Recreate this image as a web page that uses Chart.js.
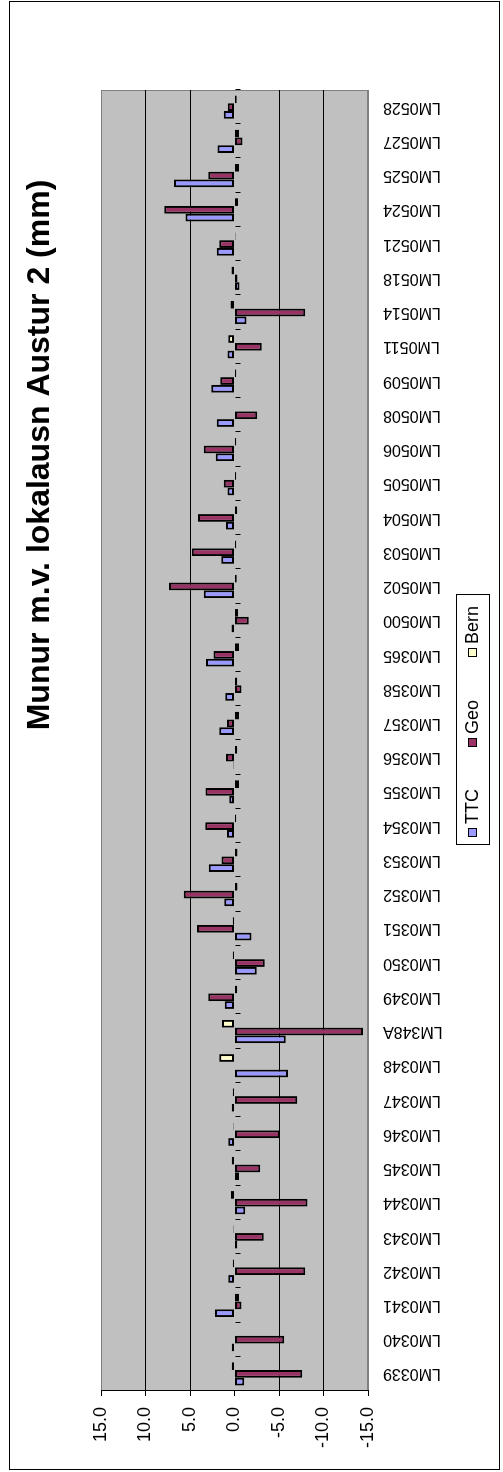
<!DOCTYPE html>
<html>
<head>
<meta charset="utf-8">
<script src="https://cdn.jsdelivr.net/npm/chart.js@4.4.1/dist/chart.umd.min.js"></script>
<style>
  body { margin: 0; background: #fff; }
  #wrap {
    position: absolute; left: 0; top: 0;
    width: 1472px; height: 503px;
    transform-origin: 0 0;
    transform: translate(0, 1472px) rotate(-90deg);
  }
</style>
</head>
<body>
<div id="wrap"><canvas id="chart" width="1472" height="503"></canvas></div>
<script>
/* chart data */
const chartTitle = 'Munur m.v. lokalausn Austur 2 (mm)';
const stations = ['LM0339', 'LM0340', 'LM0341', 'LM0342', 'LM0343', 'LM0344', 'LM0345', 'LM0346',
  'LM0347', 'LM0348', 'LM348A', 'LM0349', 'LM0350', 'LM0351', 'LM0352', 'LM0353', 'LM0354',
  'LM0355', 'LM0356', 'LM0357', 'LM0358', 'LM0365', 'LM0500', 'LM0502', 'LM0503', 'LM0504',
  'LM0505', 'LM0506', 'LM0508', 'LM0509', 'LM0511', 'LM0514', 'LM0518', 'LM0521', 'LM0524',
  'LM0525', 'LM0527', 'LM0528'];
const ttc = [-1.1, 0.3, 2.2, 0.7, -0.3, -1.2, -0.5, 0.7, 0.3, -6.0, -5.75, 1.1, -2.5, -1.9, 1.15,
  2.9, 0.85, 0.6, 0.1, 1.7, 1.05, 3.2, 0.35, 3.45, 1.5, 0.95, 0.8, 2.1, 2.0, 2.6, 0.8, -1.35,
  -0.55, 2.0, 5.5, 6.8, 1.9, 1.2];
const geo = [-7.6, -5.6, -0.8, -7.95, -3.3, -8.2, -2.9, -5.1, -7.05, 0, -14.45, 2.95, -3.4, 4.2,
  5.7, 1.45, 3.3, 3.25, 0.95, 0.85, -0.8, 2.35, -1.6, 7.35, 4.8, 4.1, 1.2, 3.45, -2.55, 1.6,
  -3.05, -7.95, -0.35, 1.7, 7.9, 2.95, -0.9, 0.75];
const bern = [0.3, 0, -0.5, 0.2, 0.1, 0.4, 0.3, 0.1, 0.2, 1.7, 1.4, -0.3, 0.2, 0.2, -0.35, -0.35,
  -0.2, -0.5, -0.3, -0.5, -0.3, -0.5, -0.4, -0.25, -0.2, -0.3, -0.2, -0.2, 0, -0.2, 0.7, 0.45,
  0.35, -0.1, -0.4, -0.5, -0.5, -0.25];
const valueTicks = [-15, -10, -5, 0, 5, 10, 15];

const FONT = '"Liberation Sans", Arial, sans-serif';

/* plot background, frame, zero axis ticks, title and legend */
const excelLook = {
  id: 'excelLook',
  beforeDraw(chart) {
    const { ctx, chartArea: a } = chart;
    ctx.save();
    ctx.fillStyle = '#C0C0C0';
    ctx.fillRect(a.left, a.top, a.right - a.left, a.bottom - a.top);
    ctx.strokeStyle = '#808080';
    ctx.lineWidth = 1;
    ctx.strokeRect(a.left + 0.5, a.top + 0.5, a.right - a.left - 1, a.bottom - a.top - 1);
    ctx.restore();
  },
  afterDatasetsDraw(chart) {
    const { ctx, chartArea: a, scales } = chart;
    const y0 = Math.round(scales.y.getPixelForValue(0)) + 0.5;
    const step = (a.right - a.left) / stations.length;
    ctx.save();
    ctx.strokeStyle = '#000';
    ctx.lineWidth = 1;
    ctx.beginPath();
    for (let i = 0; i <= stations.length; i++) {
      const x = Math.round(a.left + i * step) + 0.5;
      ctx.moveTo(x, y0);
      ctx.lineTo(x, y0 + 5);
    }
    ctx.stroke();
    ctx.restore();
  },
  afterDraw(chart) {
    const ctx = chart.ctx;
    ctx.save();
    // outer frame
    ctx.strokeStyle = '#000';
    ctx.lineWidth = 1;
    ctx.strokeRect(2.5, 9.5, 1468, 490);
    // title
    ctx.fillStyle = '#000';
    ctx.font = 'bold 32px ' + FONT;
    ctx.textAlign = 'center';
    ctx.textBaseline = 'middle';
    ctx.fillText(chartTitle, 1017, 40);
    // legend
    ctx.strokeRect(627.5, 456.5, 250, 33);
    ctx.font = '18px ' + FONT;
    ctx.textAlign = 'left';
    chart.data.datasets.forEach((ds, i) => {
      const mx = 635 + i * 90;
      ctx.fillStyle = ds.backgroundColor;
      ctx.fillRect(mx, 468, 8, 8);
      ctx.strokeRect(mx + 0.5, 468.5, 8, 8);
      ctx.fillStyle = '#000';
      ctx.fillText(ds.label, mx + 13, 473);
    });
    ctx.restore();
  }
};

const barStyle = { borderColor: '#000', borderWidth: 2, borderSkipped: false };

new Chart(document.getElementById('chart'), {
  type: 'bar',
  data: {
    labels: stations,
    datasets: [
      { label: 'TTC', data: ttc, backgroundColor: '#9999FF', ...barStyle },
      { label: 'Geo', data: geo, backgroundColor: '#993366', ...barStyle },
      { label: 'Bern', data: bern, backgroundColor: '#FFFFCC', ...barStyle }
    ]
  },
  options: {
    responsive: false,
    devicePixelRatio: 1,
    animation: false,
    layout: { padding: { left: 0, right: 90, top: 101, bottom: 47 } },
    categoryPercentage: 0.68,
    barPercentage: 1,
    plugins: {
      legend: { display: false },
      title: { display: false },
      tooltip: { enabled: false }
    },
    scales: {
      x: {
        grid: { display: false, drawTicks: false },
        border: { display: false },
        ticks: {
          autoSkip: false, minRotation: 90, maxRotation: 90, padding: 15,
          color: '#000', font: { family: FONT, size: 16 }
        },
        afterFit: (s) => { s.height = 88; }
      },
      y: {
        min: -15, max: 15,
        afterBuildTicks: (s) => { s.ticks = valueTicks.map(v => ({ value: v })); },
        grid: {
          color: (c) => c.tick.value === 0 ? 'rgba(0,0,0,0)' :
            (Math.abs(c.tick.value) === 15 ? '#808080' : '#000'),
          tickColor: '#000', tickLength: 5, lineWidth: 1
        },
        border: { display: true, color: '#000', width: 1 },
        ticks: {
          padding: 11, color: '#000', font: { family: FONT, size: 18 },
          callback: (v) => Number(v).toFixed(1)
        },
        afterFit: (s) => { s.width = 81; }
      }
    }
  },
  plugins: [excelLook]
});
</script>
</body>
</html>
